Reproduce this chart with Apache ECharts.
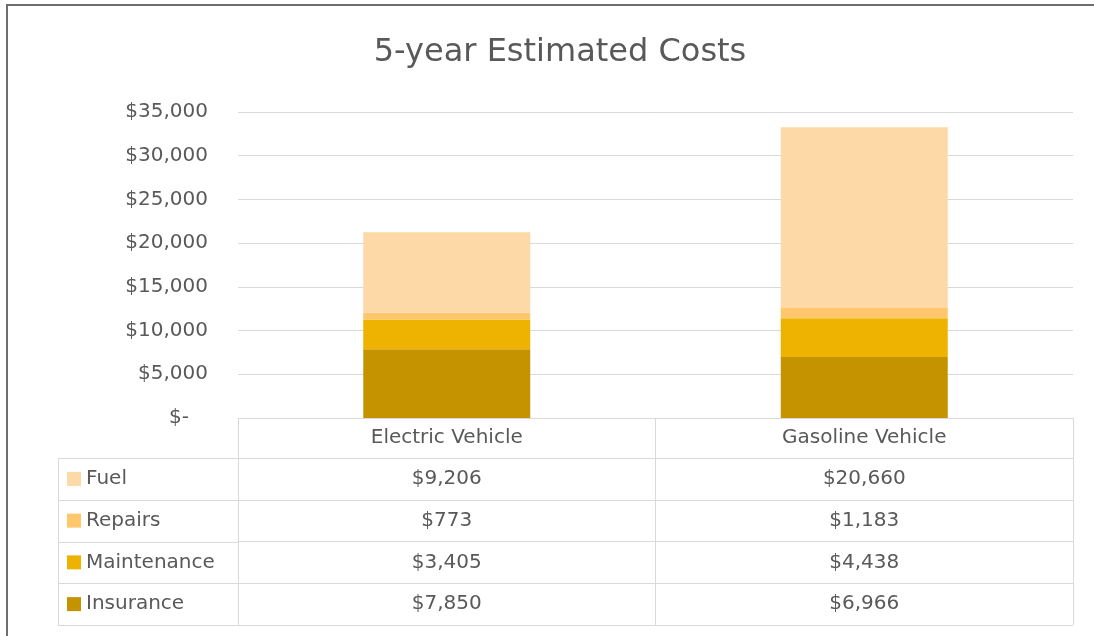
<!DOCTYPE html>
<html>
<head>
<meta charset="utf-8">
<script src="https://cdn.jsdelivr.net/npm/echarts@6/dist/echarts.min.js"></script>
<style>
  html, body { margin: 0; padding: 0; background: #fff; }
  #chart { width: 1094px; height: 636px; }
</style>
</head>
<body>
<div id="chart"></div>
<script>
// data
const categories = ['Electric Vehicle', 'Gasoline Vehicle'];
const fuel = [9206, 20660];
const repairs = [773, 1183];
const maintenance = [3405, 4438];
const insurance = [7850, 6966];
const yTicks = [0, 5000, 10000, 15000, 20000, 25000, 30000, 35000];

// table rows, top to bottom as in the data table
const rows = [
  { name: 'Fuel', values: fuel, color: '#fcd9a7' },
  { name: 'Repairs', values: repairs, color: '#fec76b' },
  { name: 'Maintenance', values: maintenance, color: '#eeb200' },
  { name: 'Insurance', values: insurance, color: '#c69300' }
];

const W = 1094, H = 636;
const gridLeft = 238, gridRight = 21, gridTop = 112, gridBottom = 218;
const headerH = 40, rowH = 41.75, tableLeft = 58;
const font = 'DejaVu Sans';
const txt = '#595959';
const line = '#d9d9d9';

function money(v) {
  return '$' + v.toLocaleString('en-US');
}

const chart = echarts.init(document.getElementById('chart'), null, { renderer: 'canvas' });

const axisBottom = H - gridBottom;
const gridRightX = W - gridRight;

// main axis = header row, then one axis per table row
let xAxes = [{
  type: 'category',
  data: categories,
  position: 'bottom',
  axisLine: { show: true, lineStyle: { color: line, width: 1 } },
  axisTick: { show: true, length: headerH, lineStyle: { color: line } },
  axisLabel: {
    interval: 0, margin: headerH / 2, verticalAlign: 'middle',
    color: txt, fontFamily: font, fontSize: 20
  }
}];
rows.forEach(function (r, i) {
  xAxes.push({
    type: 'category',
    data: categories,
    position: 'bottom',
    offset: headerH + i * rowH,
    axisLine: { show: true, lineStyle: { color: line, width: 1 } },
    axisTick: { show: true, length: rowH, lineStyle: { color: line } },
    axisLabel: {
      interval: 0, margin: rowH / 2, verticalAlign: 'middle',
      color: txt, fontFamily: font, fontSize: 20,
      formatter: function (v, idx) { return money(r.values[idx]); }
    }
  });
});

// legend column borders
let graphics = [];
for (let i = 0; i <= rows.length; i++) {
  const y = Math.round(axisBottom + headerH + i * rowH) + 0.5;
  graphics.push({
    type: 'line', silent: true,
    shape: { x1: tableLeft, y1: y, x2: (i === rows.length ? gridRightX : gridLeft), y2: y },
    style: { stroke: line, lineWidth: 1 }
  });
}
graphics.push({
  type: 'line', silent: true,
  shape: { x1: tableLeft + 0.5, y1: axisBottom + headerH, x2: tableLeft + 0.5, y2: axisBottom + headerH + rows.length * rowH },
  style: { stroke: line, lineWidth: 1 }
});
// chart area border (top and left only visible)
graphics.push({
  type: 'polyline', silent: true,
  shape: { points: [[7, H], [7, 5], [W, 5]] },
  style: { stroke: '#6e6e6e', lineWidth: 2, fill: null }
});

// stacked series from bottom up
const series = rows.slice().reverse().map(function (r) {
  return {
    name: r.name,
    type: 'bar',
    stack: 'cost',
    barWidth: '40%',
    data: r.values,
    itemStyle: { color: r.color },
    emphasis: { disabled: true }
  };
});

// one legend per table row so each key sits in its own cell
const legends = rows.map(function (r, i) {
  return {
    orient: 'vertical',
    left: 67,
    top: axisBottom + headerH + i * rowH + rowH / 2 - 10,
    padding: 0,
    itemWidth: 14,
    itemHeight: 14,
    icon: 'rect',
    selectedMode: false,
    data: [r.name],
    textStyle: { color: txt, fontFamily: font, fontSize: 20 }
  };
});

const option = {
  backgroundColor: '#fff',
  animation: false,
  title: {
    text: '5-year Estimated Costs',
    left: 555,
    top: 32,
    textAlign: 'center',
    textStyle: { color: txt, fontFamily: font, fontSize: 32, fontWeight: 'normal' }
  },
  legend: legends,
  grid: { left: gridLeft, right: gridRight, top: gridTop, bottom: gridBottom, containLabel: false },
  xAxis: xAxes,
  yAxis: {
    type: 'value',
    min: yTicks[0],
    max: yTicks[yTicks.length - 1],
    interval: yTicks[1] - yTicks[0],
    axisLine: { show: false },
    axisTick: { show: false },
    splitLine: { lineStyle: { color: line, width: 1 } },
    axisLabel: {
      margin: 30,
      color: txt, fontFamily: font, fontSize: 20,
      formatter: function (v) { return v === 0 ? '$-   ' : money(v); }
    }
  },
  graphic: graphics,
  series: series
};

chart.setOption(option);
</script>
</body>
</html>
